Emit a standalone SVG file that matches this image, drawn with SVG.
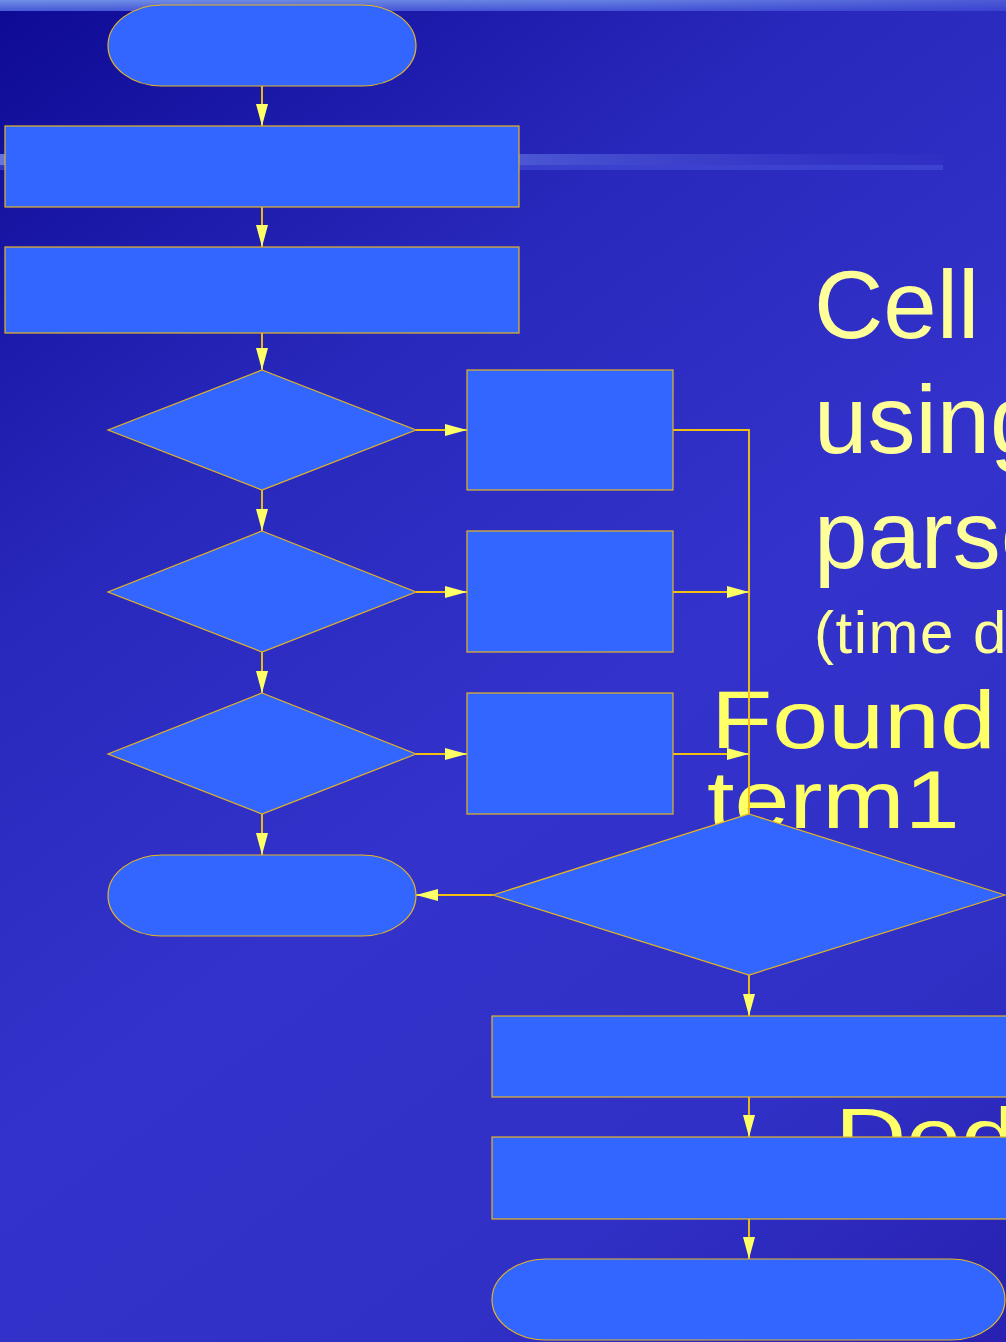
<svg xmlns="http://www.w3.org/2000/svg" width="1006" height="1342" viewBox="0 0 1006 1342">
  <defs>
    <linearGradient id="bg" gradientUnits="userSpaceOnUse" x1="0" y1="0" x2="1006" y2="1342">
      <stop offset="0" stop-color="#0e0a94"/>
      <stop offset="0.3" stop-color="#2828bc"/>
      <stop offset="0.55" stop-color="#3333cc"/>
      <stop offset="0.8" stop-color="#3030c6"/>
      <stop offset="1" stop-color="#2820b0"/>
    </linearGradient>
    <linearGradient id="topband" x1="0" y1="0" x2="0" y2="1">
      <stop offset="0" stop-color="#7090e6"/>
      <stop offset="1" stop-color="#4658d8"/>
    </linearGradient>
    <linearGradient id="topfade" x1="0" y1="0" x2="1" y2="0">
      <stop offset="0" stop-color="#3030c8" stop-opacity="0"/>
      <stop offset="0.6" stop-color="#3030c8" stop-opacity="0.15"/>
      <stop offset="1" stop-color="#3030c8" stop-opacity="0.55"/>
    </linearGradient>
    <linearGradient id="streak" gradientUnits="userSpaceOnUse" x1="0" y1="0" x2="943" y2="0">
      <stop offset="0" stop-color="#7080e6" stop-opacity="0.9"/>
      <stop offset="0.55" stop-color="#5868dc" stop-opacity="0.75"/>
      <stop offset="1" stop-color="#3838cc" stop-opacity="0.2"/>
    </linearGradient>
    <marker id="arrow" markerUnits="userSpaceOnUse" markerWidth="24" markerHeight="12" refX="22" refY="6" orient="auto">
      <path d="M0,0 L22,6 L0,12 Z" fill="#ffff66"/>
    </marker>
    <style>
      .node { fill: #3366ff; stroke: #e8b420; stroke-width: 1.2; }
      .edge { fill: none; stroke: #f2c010; stroke-width: 1.9; }
      .edge.arr { marker-end: url(#arrow); }
      .slide { font-family: "Liberation Sans", Arial, sans-serif; }
      .pale { fill: #ffff99; }
      .bright { fill: #ffff66; font-size: 81px; }
    </style>
  </defs>

  <!-- slide background -->
  <rect x="0" y="0" width="1006" height="1342" fill="url(#bg)"/>
  <rect x="0" y="0" width="1006" height="11" fill="url(#topband)"/>
  <rect x="0" y="0" width="1006" height="11" fill="url(#topfade)"/>
  <rect x="0" y="154" width="943" height="11" fill="url(#streak)"/>
  <rect x="0" y="165" width="943" height="5" fill="#4a54dc" opacity="0.55"/>

  <!-- slide text, partly behind the chart -->
  <g class="slide">
    <text class="pale" x="814" y="338" font-size="96">Cell</text>
    <text class="pale" x="814" y="453" font-size="96">using</text>
    <text class="pale" x="814" y="568" font-size="96">parse</text>
    <text class="pale" x="814" y="653" font-size="60" letter-spacing="1.5">(time d</text>
    <!-- wide-set lettering -->
    <text class="bright" transform="translate(711,748) scale(1.24,1)">Found</text>
    <text class="bright" transform="translate(707,828) scale(1.22,1)">term1</text>
    <text class="bright" transform="translate(835,1165) scale(1.22,1)">Ded</text>
  </g>

  <!-- connectors -->
  <g id="connectors">
    <line class="edge arr" x1="262" y1="86" x2="262" y2="126"/>
    <line class="edge arr" x1="262" y1="207" x2="262" y2="247"/>
    <line class="edge arr" x1="262" y1="333" x2="262" y2="370"/>
    <line class="edge arr" x1="262" y1="490" x2="262" y2="531"/>
    <line class="edge arr" x1="262" y1="652" x2="262" y2="693"/>
    <line class="edge arr" x1="262" y1="814" x2="262" y2="855"/>
    <line class="edge arr" x1="416" y1="430" x2="467" y2="430"/>
    <line class="edge arr" x1="416" y1="592" x2="467" y2="592"/>
    <line class="edge arr" x1="416" y1="754" x2="467" y2="754"/>
    <polyline class="edge" points="673,430 749,430 749,814"/>
    <line class="edge arr" x1="673" y1="592" x2="749" y2="592"/>
    <line class="edge arr" x1="673" y1="754" x2="749" y2="754"/>
    <line class="edge arr" x1="493" y1="895" x2="416" y2="895"/>
    <line class="edge arr" x1="749" y1="975" x2="749" y2="1016"/>
    <line class="edge arr" x1="749" y1="1097" x2="749" y2="1137"/>
    <line class="edge arr" x1="749" y1="1219" x2="749" y2="1259"/>
  </g>

  <!-- left column -->
  <g id="start"><rect class="node" x="108" y="5" width="308" height="81" rx="54" ry="40.5"/></g>
  <g id="step1"><rect class="node" x="5" y="126" width="514" height="81"/></g>
  <g id="step2"><rect class="node" x="5" y="247" width="514" height="86"/></g>
  <g id="check1"><polygon class="node" points="262,370 416,430 262,490 108,430"/></g>
  <g id="check2"><polygon class="node" points="262,531 416,592 262,652 108,592"/></g>
  <g id="check3"><polygon class="node" points="262,693 416,754 262,814 108,754"/></g>
  <g id="end1"><rect class="node" x="108" y="855" width="308" height="81" rx="54" ry="40.5"/></g>

  <!-- branch boxes -->
  <g id="action1"><rect class="node" x="467" y="370" width="206" height="120"/></g>
  <g id="action2"><rect class="node" x="467" y="531" width="206" height="121"/></g>
  <g id="action3"><rect class="node" x="467" y="693" width="206" height="121"/></g>

  <!-- right column -->
  <g id="found"><polygon class="node" points="749,814 1005,895 749,975 493,895"/></g>
  <g id="step3"><rect class="node" x="492" y="1016" width="516" height="81"/></g>
  <g id="step4"><rect class="node" x="492" y="1137" width="516" height="82"/></g>
  <g id="end2"><rect class="node" x="492" y="1259" width="513" height="81" rx="54" ry="40.5"/></g>
</svg>
